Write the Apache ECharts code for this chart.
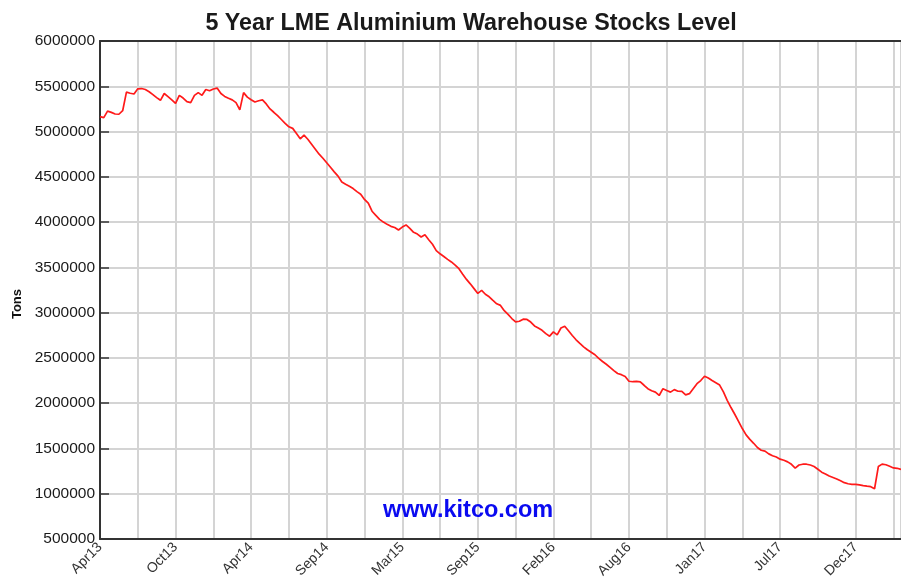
<!DOCTYPE html>
<html>
<head>
<meta charset="utf-8">
<script src="https://cdn.jsdelivr.net/npm/echarts@6/dist/echarts.min.js"></script>
<style>html,body{margin:0;padding:0;background:#fff;}#c{width:901px;height:587px;}</style>
</head>
<body>
<div id="c"></div>
<script>
// Trading-day spacing between successive readings
const STEP = 6;
// Tick labels, one every 120 trading days
const tickLabels = ['Apr13','Oct13','Apr14','Sep14','Mar15','Sep15','Feb16','Aug16','Jan17','Jul17','Dec17'];
// LME aluminium warehouse stocks (tons), one reading every STEP trading days
const stocks = [
5164000,5153000,5225000,5212000,5194000,5191000,5230000,5435000,5423000,5415000,
5472000,5475000,5464000,5440000,5408000,5375000,5345000,5420000,5385000,5350000,
5310000,5400000,5370000,5330000,5320000,5400000,5430000,5400000,5465000,5450000,
5470000,5480000,5420000,5388000,5367000,5350000,5320000,5240000,5430000,5380000,
5352000,5326000,5340000,5349000,5305000,5250000,5213000,5175000,5133000,5090000,
5052000,5035000,4978000,4920000,4960000,4915000,4860000,4805000,4750000,4705000,
4655000,4605000,4555000,4508000,4442000,4418000,4395000,4370000,4336000,4308000,
4250000,4210000,4120000,4075000,4030000,4000000,3975000,3953000,3940000,3913000,
3945000,3968000,3930000,3887000,3868000,3835000,3860000,3805000,3755000,3685000,
3650000,3620000,3588000,3560000,3525000,3485000,3425000,3367000,3318000,3265000,
3212000,3245000,3203000,3175000,3135000,3098000,3080000,3022000,2980000,2935000,
2898000,2905000,2928000,2925000,2896000,2853000,2830000,2805000,2768000,2740000,
2787000,2755000,2830000,2850000,2800000,2747000,2700000,2660000,2622000,2590000,
2563000,2535000,2494000,2460000,2430000,2395000,2360000,2328000,2315000,2295000,
2242000,2237000,2240000,2235000,2198000,2160000,2137000,2122000,2085000,2160000,
2140000,2122000,2150000,2132000,2130000,2092000,2105000,2160000,2215000,2250000,
2298000,2278000,2250000,2225000,2200000,2125000,2032000,1952000,1878000,1800000,
1720000,1650000,1600000,1557000,1510000,1480000,1470000,1440000,1420000,1405000,
1382000,1370000,1352000,1325000,1283000,1317000,1326000,1326000,1317000,1300000,
1270000,1238000,1218000,1195000,1180000,1163000,1143000,1122000,1110000,1104000,
1104000,1098000,1090000,1083000,1078000,1055000,1300000,1327000,1320000,1303000,
1285000,1281000,1268000
];
// Y axis range
const yMin = 500000, yMax = 6000000, yStep = 500000;
const xGridStep = 60, xLabelStep = 120, xMax = 1272;

const chart = echarts.init(document.getElementById('c'));
const font = "'Liberation Sans', Arial, sans-serif";
chart.setOption({
  animation: false,
  backgroundColor: '#ffffff',
  title: {
    text: '5 Year LME Aluminium Warehouse Stocks Level',
    left: 466, top: 7, textAlign: 'center',
    textStyle: { fontFamily: font, fontSize: 23.3, fontWeight: 'bold', color: '#1a1a1a' }
  },
  grid: { left: 100, top: 41, right: 0, height: 498, containLabel: false },
  graphic: [
    { type: 'text', left: 11, top: 289, rotation: Math.PI / 2,
      style: { text: 'Tons', font: "bold 13px 'Liberation Sans', Arial, sans-serif", fill: '#111' } },
    { type: 'text', left: 383, top: 499, z: 10,
      style: { text: 'www.kitco.com', font: "bold 23.5px 'Liberation Sans', Arial, sans-serif", fill: '#0a0af0' } }
  ],
  xAxis: [{
    type: 'value', min: 0, max: xMax, interval: xGridStep,
    axisLine: { show: true, onZero: false, lineStyle: { color: '#333', width: 2 } },
    axisTick: { show: false },
    splitLine: { show: true, lineStyle: { color: '#d4d4d4', width: 2 } },
    axisLabel: {
      rotate: 45, margin: 6, fontFamily: font, fontSize: 14, color: '#333',
      showMaxLabel: false,
      formatter: v => (v % xLabelStep === 0 && tickLabels[v / xLabelStep]) ? tickLabels[v / xLabelStep] : ''
    }
  }, {
    type: 'value', position: 'top', min: 0, max: xMax,
    axisLine: { show: true, onZero: false, lineStyle: { color: '#333', width: 2 } },
    axisTick: { show: false }, axisLabel: { show: false }, splitLine: { show: false }
  }],
  yAxis: {
    type: 'value', min: yMin, max: yMax, interval: yStep,
    axisLine: { show: true, lineStyle: { color: '#333', width: 2 } },
    axisTick: { show: true, inside: true, length: 9, lineStyle: { color: '#333', width: 1.5 } },
    splitLine: { show: true, lineStyle: { color: '#d4d4d4', width: 2 } },
    axisLabel: { margin: 5, fontFamily: font, fontSize: 15.5, color: '#1a1a1a', formatter: v => String(v) }
  },
  series: [{
    type: 'line', xAxisIndex: 0, showSymbol: false, symbol: 'none',
    lineStyle: { color: '#ff1a1a', width: 1.7 },
    data: stocks.map((v, i) => [i * STEP, v])
  }]
});
</script>
</body>
</html>
